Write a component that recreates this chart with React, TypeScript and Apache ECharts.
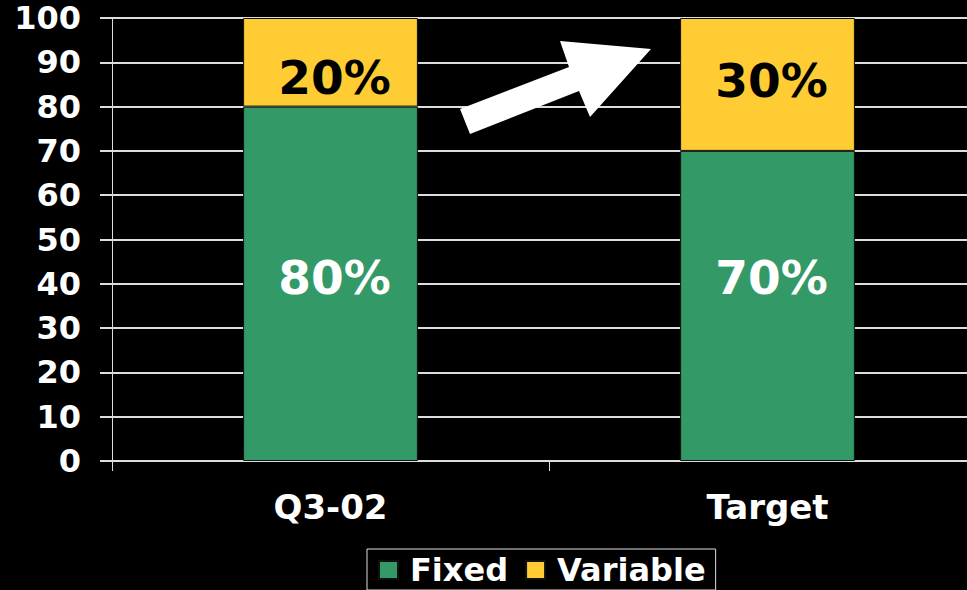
import React, { useEffect, useRef } from "react";
import * as echarts from "echarts";

const categories = ["Q3-02", "Target"];
const fixedValues = [80, 70];
const variableValues = [20, 30];
const fixedLabels = ["80%", "70%"];
const variableLabels = ["20%", "30%"];
const fixedLabelOffsets = [-6, -28];
const variableLabelOffsets = [15, -4];

const FONT = "DejaVu Sans";

export default function App() {
  const ref = useRef<HTMLDivElement>(null);
  useEffect(() => {
    if (!ref.current) return;
    const chart = echarts.init(ref.current, undefined, { renderer: "svg" });
    chart.setOption({
      animation: false,
      backgroundColor: "#000000",
      textStyle: { fontFamily: FONT, fontWeight: "bold" },
      grid: { left: 112, top: 18, right: 0, bottom: 129, containLabel: false },
      legend: {
        left: 367,
        top: 549,
        padding: [5, 10, 4, 11],
        borderColor: "#dddddd",
        borderWidth: 1,
        icon: "rect",
        itemWidth: 19,
        itemHeight: 18,
        itemGap: 17,
        textStyle: {
          color: "#ffffff",
          fontSize: 32,
          lineHeight: 30,
          fontWeight: "bold",
          fontFamily: FONT,
          padding: [0, 0, 0, 7],
        },
        data: ["Fixed", "Variable"],
      },
      xAxis: {
        type: "category",
        data: categories,
        axisLine: { show: true, lineStyle: { color: "#dddddd", width: 2 } },
        axisTick: { show: true, length: 10, lineStyle: { color: "#dddddd", width: 1 } },
        axisLabel: { color: "#ffffff", fontSize: 34, fontWeight: "bold", fontFamily: FONT, margin: 29 },
      },
      yAxis: {
        type: "value",
        min: 0,
        max: 100,
        interval: 10,
        axisLine: { show: true, lineStyle: { color: "#dddddd", width: 1 } },
        axisTick: { show: true, length: 12, lineStyle: { color: "#dddddd", width: 2 } },
        axisLabel: { color: "#ffffff", fontSize: 32, fontWeight: "bold", fontFamily: FONT, margin: 31 },
        splitLine: { show: true, lineStyle: { color: "#dddddd", width: 2 } },
      },
      series: [
        {
          name: "Fixed",
          type: "bar",
          stack: "total",
          barWidth: "40%",
          itemStyle: { color: "#339966", borderColor: "#111111", borderWidth: 1 },
          data: fixedValues.map((v, i) => ({
            value: v,
            label: {
              show: true,
              position: "inside",
              offset: [4, fixedLabelOffsets[i]],
              formatter: fixedLabels[i],
              color: "#ffffff",
              fontSize: 47,
              fontWeight: "bold",
              fontFamily: FONT,
            },
          })),
        },
        {
          name: "Variable",
          type: "bar",
          stack: "total",
          barWidth: "40%",
          itemStyle: { color: "#FFCC33", borderColor: "#111111", borderWidth: 1 },
          data: variableValues.map((v, i) => ({
            value: v,
            label: {
              show: true,
              position: "inside",
              offset: [4, variableLabelOffsets[i]],
              formatter: variableLabels[i],
              color: "#000000",
              fontSize: 47,
              fontWeight: "bold",
              fontFamily: FONT,
            },
          })),
        },
      ],
      graphic: [
        {
          type: "polygon",
          z: 100,
          shape: {
            points: [
              [460, 109],
              [569, 67],
              [560, 41],
              [651, 49],
              [590, 117],
              [579, 91],
              [470, 134],
            ],
          },
          style: { fill: "#ffffff" },
        },
      ],
    });
    return () => chart.dispose();
  }, []);
  return (
    <div
      style={{
        position: "fixed",
        left: 0,
        top: 0,
        width: 967,
        height: 590,
        overflow: "hidden",
        background: "#000",
      }}
    >
      <div ref={ref} style={{ width: 986, height: 590 }} />
    </div>
  );
}
